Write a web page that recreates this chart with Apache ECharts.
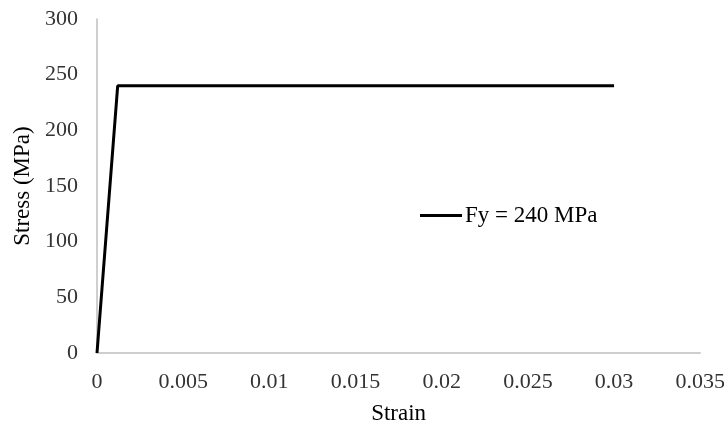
<!DOCTYPE html>
<html>
<head>
<meta charset="utf-8">
<script src="https://cdn.jsdelivr.net/npm/echarts@6/dist/echarts.min.js"></script>
<style>html,body{margin:0;padding:0;background:#fff}#c{width:728px;height:430px}</style>
</head>
<body>
<div id="c"></div>
<script>
const strain = [0, 0.0012, 0.03];
const stress = [0, 240, 240];
const seriesName = 'Fy = 240 MPa';
const xTitle = 'Strain';
const yTitle = 'Stress (MPa)';

const chart = echarts.init(document.getElementById('c'));
const font = 'Liberation Serif, Times New Roman, serif';
chart.setOption({
  animation: false,
  backgroundColor: '#fff',
  grid: {left: 97, right: 26, top: 19, bottom: 74},
  legend: {
    left: 420, top: 204, padding: 0,
    icon: 'rect', itemWidth: 42, itemHeight: 3, itemGap: 4,
    textStyle: {fontFamily: font, fontSize: 23, color: '#000', padding: [0,0,0,-2]},
    data: [seriesName]
  },
  xAxis: {
    type: 'value', min: 0, max: 0.035, interval: 0.005,
    name: xTitle, nameLocation: 'middle', nameGap: 49,
    nameTextStyle: {fontFamily: font, fontSize: 23, color: '#000'},
    axisLine: {show: true, lineStyle: {color: '#bfbfbf', width: 1.5}},
    axisTick: {show: false},
    splitLine: {show: false},
    axisLabel: {fontFamily: font, fontSize: 22, color: '#333', margin: 18,
      formatter: v => String(parseFloat(v.toFixed(4)))}
  },
  yAxis: {
    type: 'value', min: 0, max: 300, interval: 50,
    name: yTitle, nameLocation: 'middle', nameGap: 63,
    nameTextStyle: {fontFamily: font, fontSize: 23, color: '#000'},
    axisLine: {show: true, lineStyle: {color: '#bfbfbf', width: 1.5}},
    axisTick: {show: false},
    splitLine: {show: false},
    axisLabel: {fontFamily: font, fontSize: 22, color: '#333', margin: 19}
  },
  series: [{
    name: seriesName,
    type: 'line',
    data: strain.map((x, i) => [x, stress[i]]),
    symbol: 'none',
    lineStyle: {color: '#000', width: 3},
    itemStyle: {color: '#000'}
  }]
});
</script>
</body>
</html>
